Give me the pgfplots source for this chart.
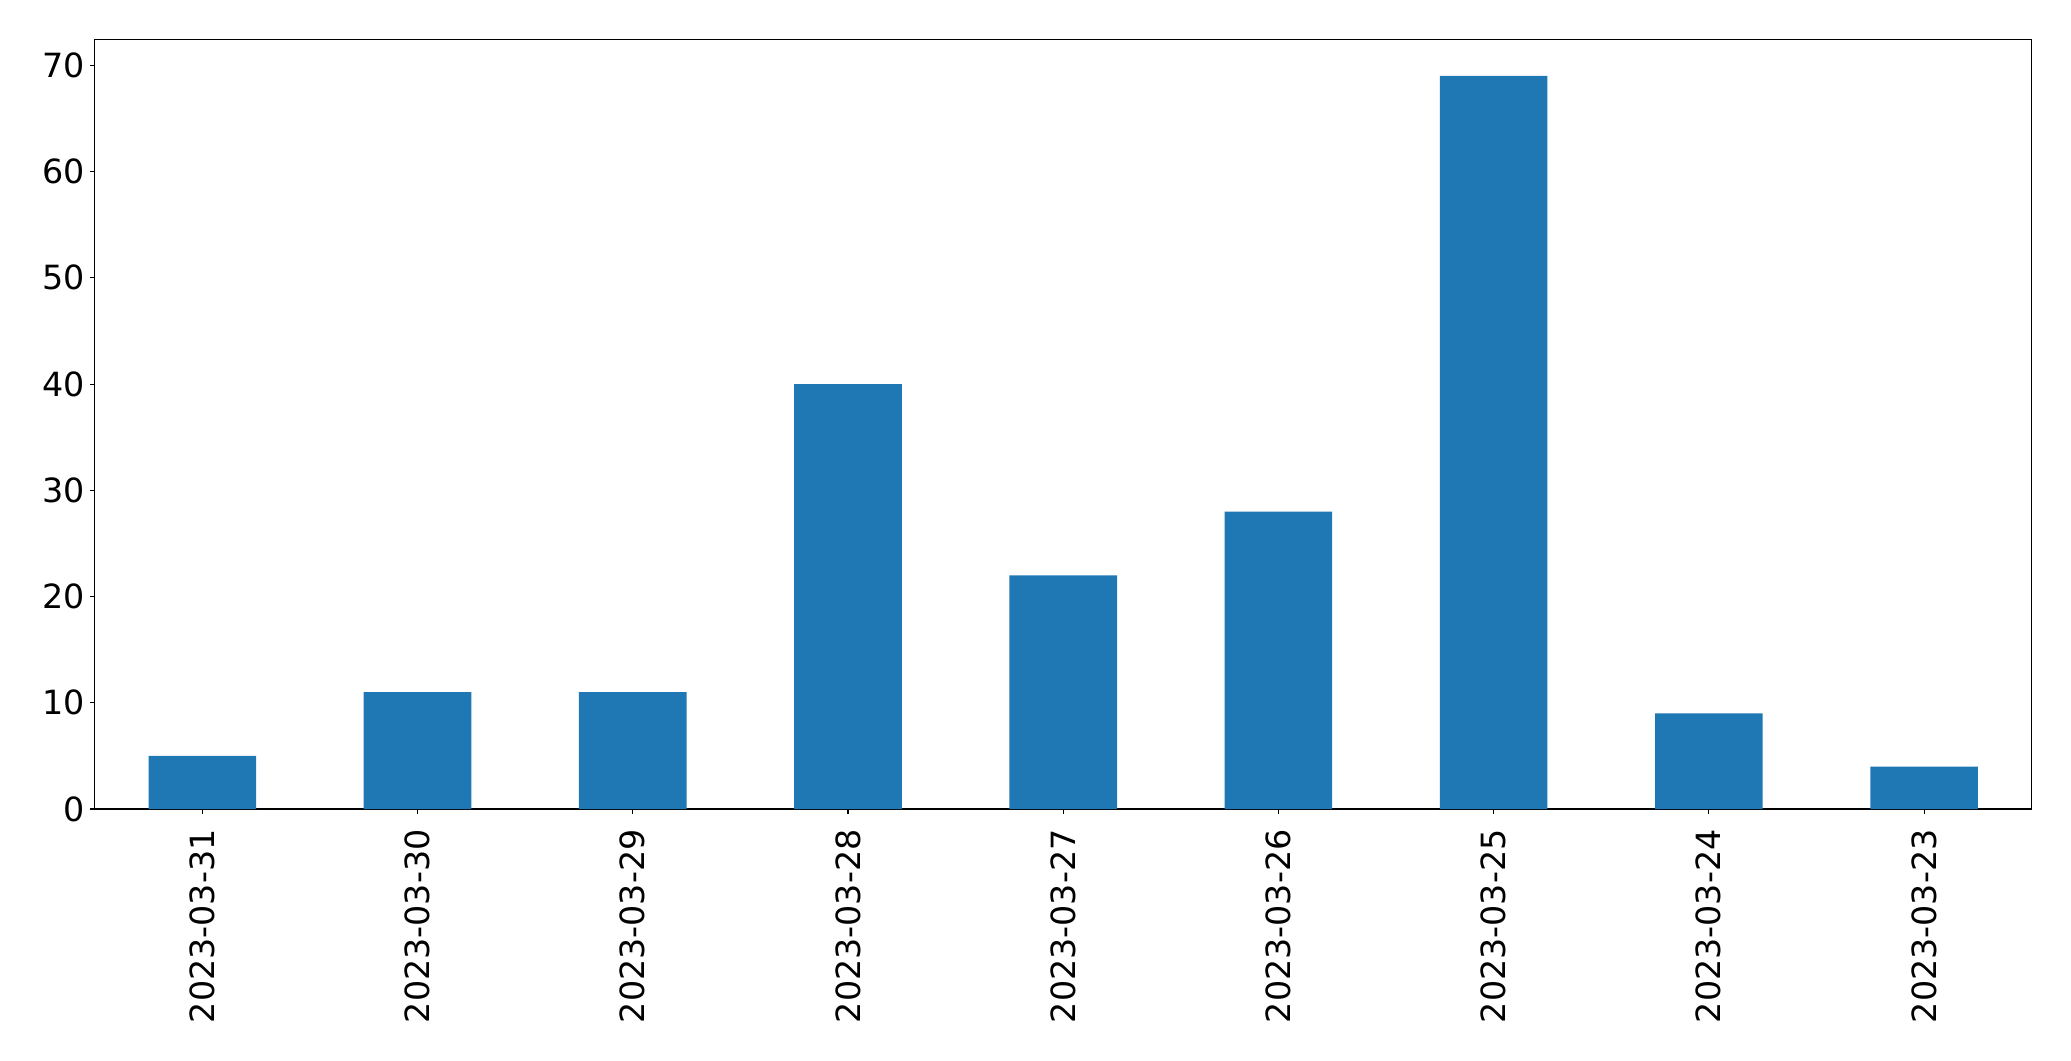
\documentclass[border=0pt]{standalone}
\usepackage{fontspec}
\setmainfont{DejaVu Sans}
\usepackage{pgfplots}
\pgfplotsset{compat=1.18}
\definecolor{tabblue}{HTML}{1F77B4}
\begin{document}
\begin{tikzpicture}
\path[use as bounding box] (-68.2pt,-181.4pt) rectangle (1422.9pt,582.5pt);
\begin{axis}[
  scale only axis,
  width=1394.6pt, height=554.2pt,
  xmin=-0.5, xmax=8.5, ymin=0, ymax=72.45,
  xtick={0,...,8},
  xticklabels={2023-03-31,2023-03-30,2023-03-29,2023-03-28,2023-03-27,2023-03-26,2023-03-25,2023-03-24,2023-03-23},
  ytick={0,10,...,70},
  tick align=outside,
  xtick pos=bottom, ytick pos=left,
  major tick length=3.5pt,
  tick style={black, line width=0.8pt},
  axis line style={line width=0.8pt},
  ticklabel style={font=\fontsize{24}{28}\selectfont},
  /pgf/number format/assume math mode=true,
  x tick label style={rotate=90, anchor=east, inner xsep=11pt},
  ybar, bar width=0.5, bar shift=0pt,
]
\addplot[fill=tabblue, draw=none] coordinates {
(0,5) (1,11) (2,11) (3,40) (4,22) (5,28) (6,69) (7,9) (8,4)
};
\end{axis}
\end{tikzpicture}
\end{document}
